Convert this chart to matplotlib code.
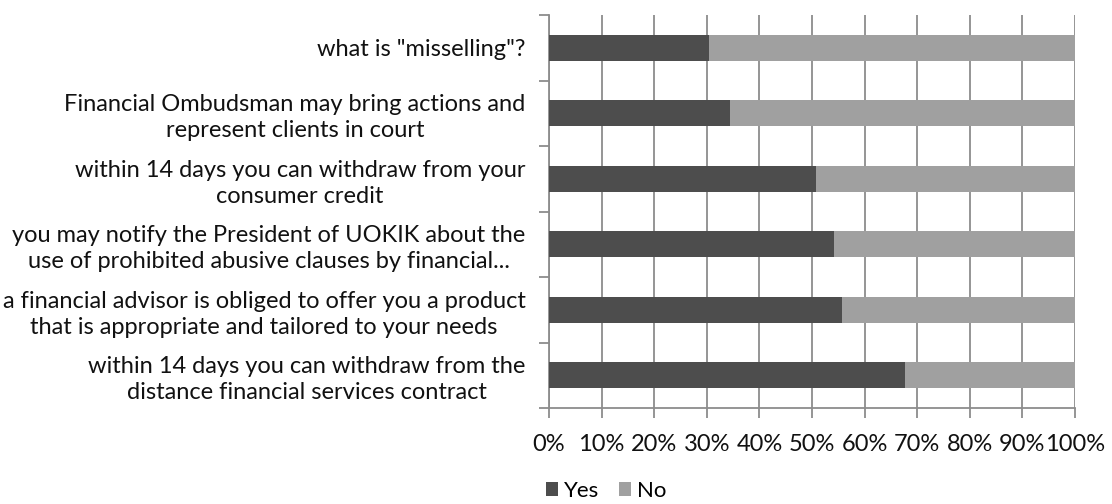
import matplotlib.pyplot as plt
import numpy as np
from matplotlib.ticker import FixedLocator, PercentFormatter

plt.rcParams['font.family'] = ['Lato', 'DejaVu Sans']

questions = [
    'what is "misselling"?',
    'Financial Ombudsman may bring actions and\nrepresent clients in court',
    'within 14 days you can withdraw from your\nconsumer credit',
    'you may notify the President of UOKIK about the\nuse of prohibited abusive clauses by financial...',
    'a financial advisor is obliged to offer you a product\nthat is appropriate and tailored to your needs',
    'within 14 days you can withdraw from the\ndistance financial services contract',
]
yes = [30.5, 34.5, 50.8, 54.2, 55.8, 67.6]
no = [100 - v for v in yes]

yes_color = '#4d4d4d'
no_color = '#a0a0a0'
grid_color = '#8c8c8c'
text_color = '#111111'

fig = plt.figure(figsize=(11.12, 5.04), dpi=100)
ax = fig.add_axes([0.4937, 0.1905, 0.4730, 0.7795])

y = np.arange(len(questions))
ax.barh(y, yes, height=0.4, color=yes_color, label='Yes', zorder=3)
ax.barh(y, no, left=yes, height=0.4, color=no_color, label='No', zorder=3)

ax.set_xlim(0, 100)
ax.set_ylim(len(questions) - 0.5, -0.5)
ax.set_xticks(np.arange(0, 101, 10))
ax.xaxis.set_major_formatter(PercentFormatter(decimals=0))
ax.set_yticks(y)
ax.set_yticklabels(questions, fontsize=17, multialignment='center',
                   color=text_color, linespacing=1.3)
ax.yaxis.set_minor_locator(FixedLocator(np.arange(-0.5, len(questions), 1)))

ax.grid(axis='x', color=grid_color, linewidth=1.3, zorder=0)
for side in ['top', 'right']:
    ax.spines[side].set_visible(False)
for side in ['left', 'bottom']:
    ax.spines[side].set_color(grid_color)
    ax.spines[side].set_linewidth(1.3)

ax.tick_params(axis='y', which='major', length=0, pad=17)
ax.tick_params(axis='y', which='minor', length=7, width=1.3, color=grid_color)
ax.tick_params(axis='x', length=7, width=1.3, color=grid_color, labelsize=17,
               pad=12, labelcolor=text_color)

handles, labels = ax.get_legend_handles_labels()
fig.legend(handles, labels, loc='center', bbox_to_anchor=(0.545, 0.026), ncol=2,
           frameon=False, fontsize=16, handlelength=0.55, handleheight=0.55,
           handletextpad=0.25, columnspacing=0.9)

fig.savefig('out.png', dpi=100, facecolor='white')
